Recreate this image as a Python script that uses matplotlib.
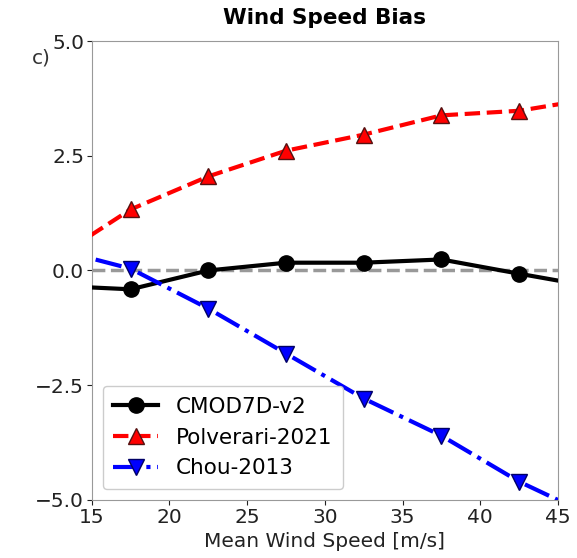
import numpy as np
import matplotlib.pyplot as plt

# bin centres (outer ones sit just outside the axis limits)
wind_speed = [12.5, 17.5, 22.5, 27.5, 32.5, 37.5, 42.5, 47.5]
bias_cmod7d = [-0.33, -0.41, 0.0, 0.17, 0.17, 0.24, -0.07, -0.37]
bias_polverari = [0.23, 1.33, 2.05, 2.61, 2.96, 3.38, 3.48, 3.76]
bias_chou = [0.48, 0.04, -0.83, -1.81, -2.79, -3.60, -4.60, -5.40]

fig = plt.figure(figsize=(5.77, 5.58), dpi=100)
ax = fig.add_axes([0.159, 0.104, 0.808, 0.8225])

ax.axhline(0, color="gray", linestyle="--", linewidth=2.5, alpha=0.8, zorder=1)
ax.plot(wind_speed, bias_cmod7d, color="black", linestyle="-", linewidth=3,
        marker="o", markersize=11, label="CMOD7D-v2", zorder=3)
ax.plot(wind_speed, bias_polverari, color="red", linestyle="--", linewidth=3,
        marker="^", markersize=12, markeredgecolor="#551111",
        label="Polverari-2021", zorder=3)
ax.plot(wind_speed, bias_chou, color="blue", linestyle="-.", linewidth=3,
        marker="v", markersize=12, markeredgecolor="#000066",
        label="Chou-2013", zorder=3)

ax.set_xlim(15, 45)
ax.set_ylim(-5, 5)
ax.set_yticks([-5.0, -2.5, 0.0, 2.5, 5.0])
ax.set_xticks([15, 20, 25, 30, 35, 40, 45])
ax.tick_params(labelsize=14.5, colors="#222222", pad=2)
for sp in ax.spines.values():
    sp.set_color("#999999")

ax.set_xlabel("Mean Wind Speed [m/s]", fontsize=14.5, color="#222222", labelpad=4)
ax.set_title("Wind Speed Bias", fontsize=15.5, fontweight="bold", pad=12)
ax.text(-0.129, 0.963, "c)", transform=ax.transAxes, fontsize=14.5,
        color="#333333", ha="left", va="center")

ax.legend(loc="lower left", fontsize=15.5, framealpha=1, borderaxespad=0.5,
          handlelength=2.1, borderpad=0.5)

fig.savefig("out.png", dpi=100)
plt.close(fig)
